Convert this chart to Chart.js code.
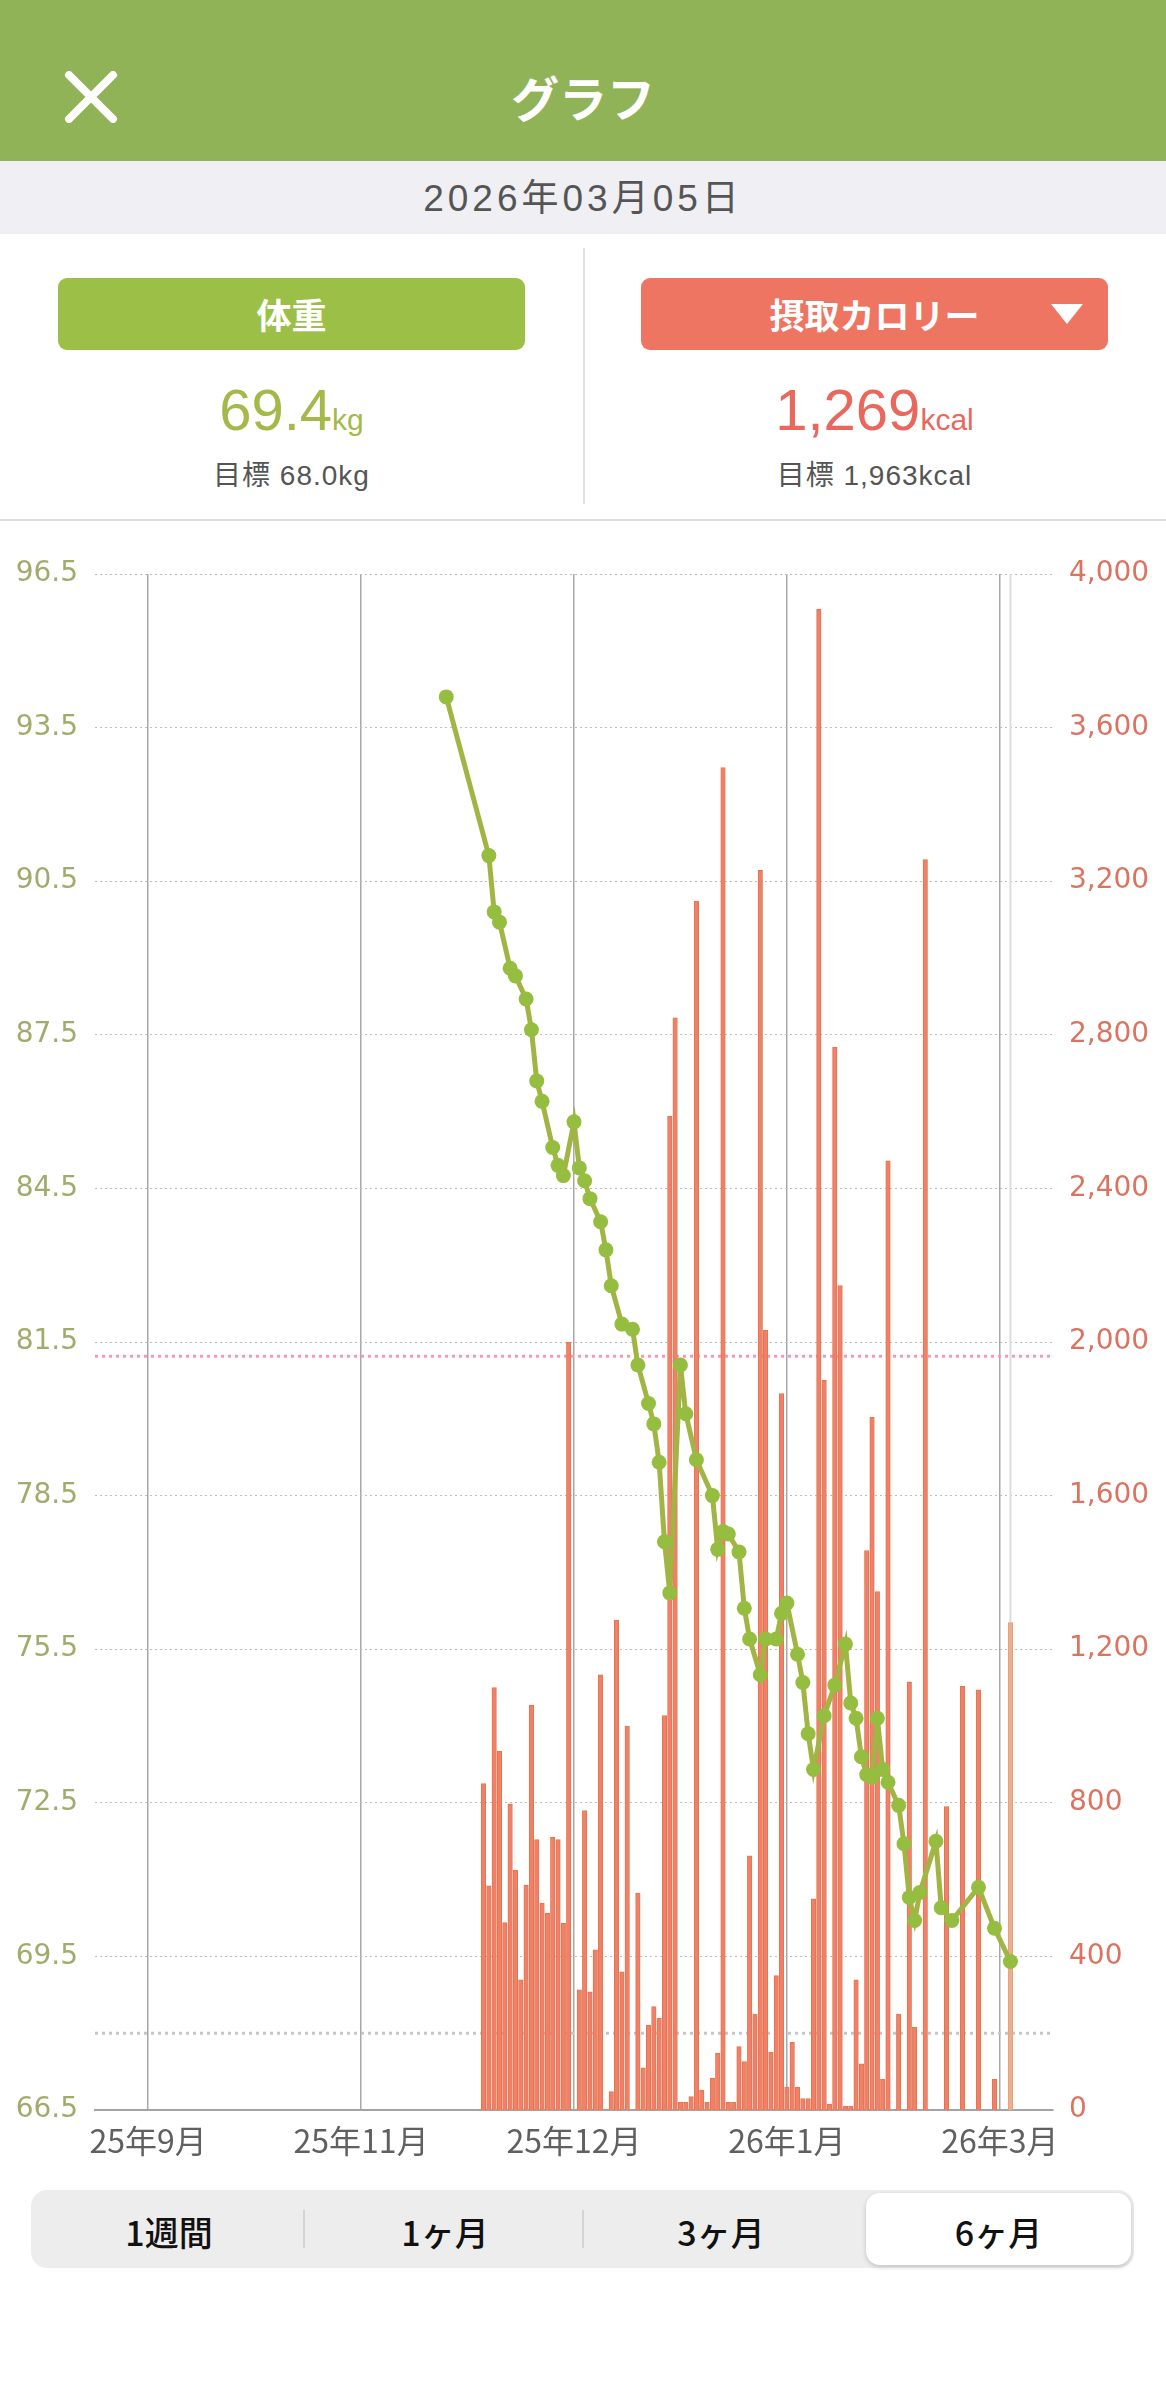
<!DOCTYPE html>
<html lang="ja">

<head>
    <meta charset="UTF-8">
    <title>グラフ</title>
    <script src="https://cdn.jsdelivr.net/npm/chart.js@4.4.1/dist/chart.umd.min.js"></script>
    <style>
        body {
            margin: 0;
            width: 1166px;
            height: 2400px;
            position: relative;
            overflow: hidden;
            background: #fff;
            font-family: "Liberation Sans", "Noto Sans CJK JP", sans-serif;
        }

        .header {
            position: absolute;
            left: 0; top: 0;
            width: 1166px; height: 161px;
            background: #8fb356;
        }

        .close {
            position: absolute;
            left: 63px; top: 71px;
        }

        .title {
            position: absolute;
            left: 0; width: 1166px;
            top: 68px;
            text-align: center;
            color: #fff;
            font: bold 48px "Noto Sans CJK JP", sans-serif;
            line-height: 56px;
        }

        .datebar {
            position: absolute;
            left: 0; top: 161px;
            width: 1166px; height: 73px;
            background: #efeff4;
            text-align: center;
            color: #555;
            font: 37px "Liberation Sans", "Noto Sans CJK JP", sans-serif;
            letter-spacing: 4px;
            line-height: 76px;
        }

        .btn {
            position: absolute;
            top: 278px; height: 72px;
            width: 467px;
            border-radius: 9px;
        }

        .btn.weight { left: 58px; background: #9cbf48; }
        .btn.kcal { left: 641px; background: #ee7561; }

        .btn b {
            position: absolute;
            left: 0; top: 9px;
            width: 100%;
            text-align: center;
            color: #fff;
            font: bold 35px "Noto Sans CJK JP", sans-serif;
            line-height: 54px;
        }

        .tri {
            position: absolute;
            left: 409px; top: 25px;
        }

        .value {
            position: absolute;
            top: 378px;
            width: 583px;
            text-align: center;
            font-size: 58px;
            line-height: 64px;
        }

        .value span { font-size: 30px; }
        .value.weight { left: 0; color: #a5b84a; }
        .value.kcal { left: 583px; color: #e8685e; }

        .goal {
            position: absolute;
            top: 458px;
            width: 583px;
            text-align: center;
            color: #555;
            font: 28px "Liberation Sans", "Noto Sans CJK JP", sans-serif;
            line-height: 36px;
            letter-spacing: 1px;
        }

        .goal.weight { left: 0; }
        .goal.kcal { left: 583px; }

        .vline {
            position: absolute;
            left: 583px; top: 248px;
            width: 2px; height: 256px;
            background: #e2e2e2;
        }

        .hline {
            position: absolute;
            left: 0; top: 519px;
            width: 1166px; height: 2px;
            background: #dedede;
        }

        .chart-box {
            position: absolute;
            left: 0; top: 530px;
            width: 1166px; height: 1640px;
        }

        .tabs {
            position: absolute;
            left: 31px; top: 2190px;
            width: 1103px; height: 78px;
            background: #ededed;
            border-radius: 16px;
        }

        .tab {
            position: absolute;
            top: 0; height: 78px;
            width: 276px;
        }

        .tab b {
            position: absolute;
            left: 0; top: 14px;
            width: 100%;
            text-align: center;
            color: #111;
            font: 500 34px "Noto Sans CJK JP", sans-serif;
            line-height: 56px;
        }

        .tab.on {
            top: 3px; height: 72px;
            background: #fff;
            border-radius: 14px;
            box-shadow: 0 2px 5px rgba(0, 0, 0, 0.18);
        }

        .tab.on b { top: 11px; }

        .sep {
            position: absolute;
            top: 20px; width: 2px; height: 38px;
            background: #d4d4d4;
        }
    </style>
</head>

<body>
    <div class="header">
        <svg class="close" width="56" height="52" viewBox="0 0 56 52">
            <path d="M6 4 L50 48 M50 4 L6 48" stroke="#fff" stroke-width="8" stroke-linecap="round" />
        </svg>
        <div class="title">グラフ</div>
    </div>
    <div class="datebar">2026年03月05日</div>

    <div class="btn weight"><b>体重</b></div>
    <div class="btn kcal"><b>摂取カロリー</b>
        <svg class="tri" width="34" height="22" viewBox="0 0 34 22">
            <path d="M1 1 L33 1 L17 21 Z" fill="#fff" />
        </svg>
    </div>
    <div class="value weight">69.4<span>kg</span></div>
    <div class="value kcal">1,269<span>kcal</span></div>
    <div class="goal weight">目標 68.0kg</div>
    <div class="goal kcal">目標 1,963kcal</div>
    <div class="vline"></div>
    <div class="hline"></div>

    <div class="chart-box">
        <canvas id="graph" width="1166" height="1640"></canvas>
    </div>

    <div class="tabs">
        <div class="tab" style="left:0"><b>1週間</b></div>
        <div class="sep" style="left:272px"></div>
        <div class="tab" style="left:276px"><b>1ヶ月</b></div>
        <div class="sep" style="left:551px"></div>
        <div class="tab" style="left:552px"><b>3ヶ月</b></div>
        <div class="tab on" style="left:835px;width:265px"><b>6ヶ月</b></div>
    </div>

    <script>
        // day index 0 = first logged day, 99 = today (2026/03/05)
        const xTickDays = [-63, -23, 17, 57, 97];
        const xTickLabels = ['25年9月', '25年11月', '25年12月', '26年1月', '26年3月'];
        const weightTicks = [66.5, 69.5, 72.5, 75.5, 78.5, 81.5, 84.5, 87.5, 90.5, 93.5, 96.5];
        const kcalTicks = [0, 400, 800, 1200, 1600, 2000, 2400, 2800, 3200, 3600, 4000];

        // daily intake (kcal), null = nothing recorded
        const calories = [
            850, 584, 1100, 934, 488, 797, 624, 339, 586, 1054,
            704, 539, 512, 710, 704, 486, 2000, null, 313, 780,
            308, 417, 1133, null, 48, 1276, 360, 1000, null, 565,
            110, 221, 269, 239, 1027, 2588, 2844, 20, 20, 35,
            3148, 52, 20, 83, 148, 3496, 20, 20, 165, 126,
            662, 250, 3228, 2031, 150, 350, 1866, 60, 176, 60,
            30, 30, 550, 3908, 1900, 15, 2768, 2147, 10, 10,
            339, 120, 1457, 1804, 1350, 80, 2472, null, 250, null,
            1115, 215, null, 3256, null, null, null, 790, null, null,
            1103, null, null, 1094, null, null, 80, null, null, 1269
        ];

        const weightDays = [-7, 1, 2, 3, 5, 6, 8, 9, 10, 11,
            13, 14, 15, 17, 18, 19, 20, 22, 23, 24,
            26, 28, 29, 31, 32, 33, 34, 35, 37, 38,
            40, 43, 44, 45, 46, 48, 49, 50, 52, 53,
            55, 56, 57, 59, 60, 61, 62, 64, 66, 68,
            69, 70, 71, 72, 73, 74, 75, 76, 78, 79,
            80, 81, 82, 85, 86, 88, 93, 96, 99];
        const weightKg = [94.1, 91.0, 89.9, 89.7, 88.8, 88.65, 88.2, 87.6, 86.6, 86.2,
            85.3, 84.95, 84.75, 85.8, 84.9, 84.65, 84.3, 83.85, 83.3, 82.6,
            81.85, 81.75, 81.05, 80.3, 79.9, 79.15, 77.6, 76.6, 81.05, 80.1,
            79.2, 78.5, 77.45, 77.8, 77.75, 77.4, 76.3, 75.7, 75.0, 75.7,
            75.7, 76.2, 76.4, 75.4, 74.85, 73.85, 73.15, 74.2, 74.8, 75.6,
            74.45, 74.15, 73.4, 73.05, 73.0, 74.15, 73.15, 72.9, 72.45, 71.7,
            70.65, 70.2, 70.75, 71.75, 70.45, 70.2, 70.85, 70.05, 69.4];

        const targetKg = 68.0;
        const targetKcal = 1963;
        const todayDay = 99;
        const firstDay = -73;
        const lastDay = 107;

        const barData = calories.map((v, i) => ({ x: i, y: v }));
        const lineData = weightDays.map((d, i) => ({ x: d, y: weightKg[i] }));

        // faint marker behind today's bar
        const todayLine = {
            id: 'todayLine',
            beforeDatasetsDraw(chart) {
                const { ctx, chartArea, scales } = chart;
                const x = scales.x.getPixelForValue(todayDay);
                ctx.save();
                ctx.strokeStyle = '#dcdcdc';
                ctx.lineWidth = 2;
                ctx.beginPath();
                ctx.moveTo(x, chartArea.top);
                ctx.lineTo(x, chartArea.bottom);
                ctx.stroke();
                ctx.restore();
            }
        };

        const ctx = document.getElementById('graph').getContext('2d');
        new Chart(ctx, {
            data: {
                datasets: [{
                    type: 'line',
                    label: '目標体重',
                    data: [{ x: firstDay, y: targetKg }, { x: lastDay, y: targetKg }],
                    yAxisID: 'yW',
                    borderColor: '#c6c6c6',
                    borderWidth: 3,
                    borderDash: [3, 4],
                    pointRadius: 0,
                    order: 3
                }, {
                    type: 'line',
                    label: '目標カロリー',
                    data: [{ x: firstDay, y: targetKcal }, { x: lastDay, y: targetKcal }],
                    yAxisID: 'yK',
                    borderColor: '#f59ab4',
                    borderWidth: 3,
                    borderDash: [3, 4],
                    pointRadius: 0,
                    order: 3
                }, {
                    type: 'bar',
                    label: '摂取カロリー',
                    data: barData,
                    yAxisID: 'yK',
                    backgroundColor: c => c.dataIndex === todayDay ? '#eeae8c' : '#f27f6c',
                    borderColor: c => c.dataIndex === todayDay ? '#e8a07a' : '#e0784a',
                    borderWidth: { left: 1, right: 1, top: 1, bottom: 0 },
                    barThickness: 4.5,
                    order: 2
                }, {
                    type: 'line',
                    label: '体重',
                    data: lineData,
                    yAxisID: 'yW',
                    borderColor: '#a2b544',
                    borderWidth: 5,
                    pointRadius: 7.5,
                    pointBackgroundColor: '#95bd3f',
                    pointBorderWidth: 0,
                    tension: 0,
                    order: 1
                }]
            },
            options: {
                responsive: false,
                animation: false,
                layout: { padding: { top: 44 } },
                plugins: {
                    legend: { display: false },
                    tooltip: { enabled: false }
                },
                scales: {
                    x: {
                        type: 'linear',
                        min: firstDay,
                        max: lastDay,
                        offset: false,
                        afterBuildTicks: s => { s.ticks = xTickDays.map(v => ({ value: v })); },
                        afterFit: s => { s.height = 60; },
                        ticks: {
                            autoSkip: false,
                            maxRotation: 0,
                            padding: 12,
                            color: '#606060',
                            font: { family: '"Noto Sans CJK JP"', size: 32 },
                            callback: v => xTickLabels[xTickDays.indexOf(v)]
                        },
                        grid: { color: '#a8a8a8', lineWidth: 1.5, drawTicks: false, offset: false },
                        border: { display: true, color: '#a4a4a4', width: 2 }
                    },
                    yW: {
                        position: 'left',
                        min: 66.5,
                        max: 96.5,
                        afterBuildTicks: s => { s.ticks = weightTicks.map(v => ({ value: v })); },
                        afterFit: s => { s.width = 95; },
                        ticks: {
                            padding: 17,
                            color: '#a3ab6c',
                            font: { family: '"DejaVu Sans"', size: 28 },
                            callback: v => v.toFixed(1)
                        },
                        grid: { color: '#bdbdbd', lineWidth: 1, drawTicks: false },
                        border: { display: false, dash: [2, 3] }
                    },
                    yK: {
                        position: 'right',
                        min: 0,
                        max: 4000,
                        afterBuildTicks: s => { s.ticks = kcalTicks.map(v => ({ value: v })); },
                        afterFit: s => { s.width = 113; },
                        ticks: {
                            padding: 16,
                            color: '#dc7260',
                            font: { family: '"DejaVu Sans"', size: 28 },
                            callback: v => v.toLocaleString('en-US')
                        },
                        grid: { display: false, drawTicks: false },
                        border: { display: false }
                    }
                }
            },
            plugins: [todayLine]
        });
    </script>
</body>

</html>
